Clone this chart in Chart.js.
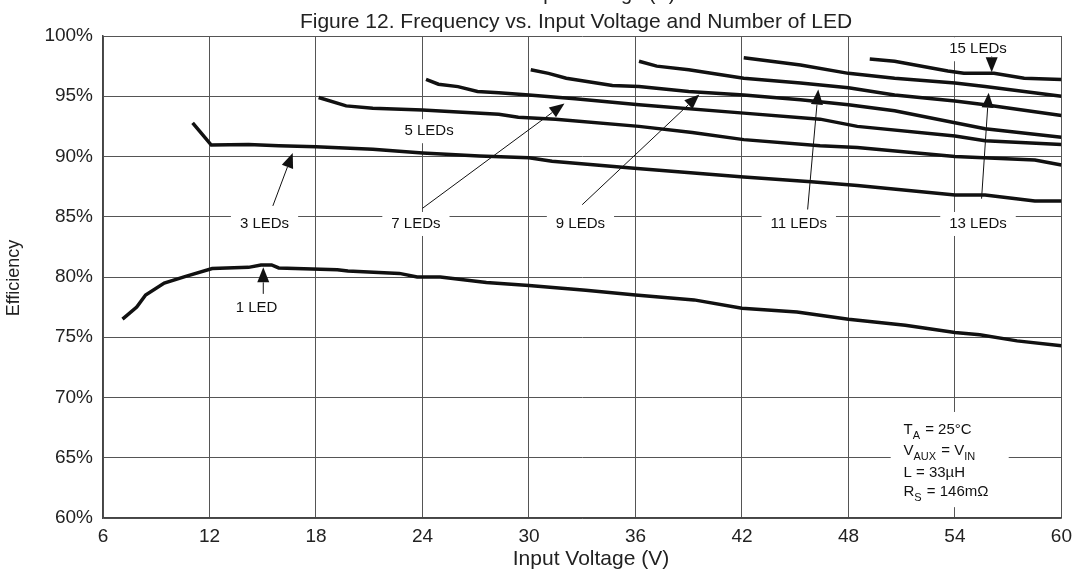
<!DOCTYPE html>
<html>
<head>
<meta charset="utf-8">
<script src="https://cdn.jsdelivr.net/npm/chart.js@4.4.0/dist/chart.umd.min.js"></script>
<style>
  html, body { margin: 0; padding: 0; background: #fff; }
</style>
</head>
<body>
<canvas id="chart1" width="1079" height="572"></canvas>
<script>
// x ticks / y ticks
const xTicks = [6, 12, 18, 24, 30, 36, 42, 48, 54, 60];
const yTicks = [60, 65, 70, 75, 80, 85, 90, 95, 100];

// efficiency curves (input voltage V, efficiency %)
const v1 = [7.1, 7.9, 8.4, 9.45, 10.66, 12.15, 14.2, 14.9, 15.5, 15.9, 19.2, 19.8, 22.7, 23.7, 25.0, 27.6, 30.0, 33.2, 36.0, 39.3, 42.0, 45.1, 48.0, 51.2, 54.0, 55.4, 57.5, 60];
const e1 = [76.5, 77.5, 78.5, 79.5, 80.05, 80.7, 80.8, 81.0, 81.0, 80.75, 80.6, 80.5, 80.3, 80.0, 80.0, 79.55, 79.3, 78.9, 78.5, 78.1, 77.4, 77.1, 76.5, 76.0, 75.4, 75.2, 74.7, 74.3];

const v3 = [11.05, 11.5, 12.1, 14.2, 15.9, 18.0, 21.2, 24.0, 27.2, 30.0, 31.3, 36.1, 42.1, 45.9, 48.5, 54.0, 55.7, 58.5, 60];
const e3 = [92.8, 92.0, 90.95, 91.0, 90.9, 90.8, 90.6, 90.3, 90.05, 89.9, 89.6, 89.0, 88.3, 87.9, 87.6, 86.8, 86.8, 86.3, 86.3];

const v5 = [18.15, 19.7, 21.2, 24.0, 26.0, 28.3, 29.4, 31.5, 36.2, 39.2, 42.1, 46.4, 48.5, 54.0, 58.5, 60];
const e5 = [94.9, 94.2, 94.0, 93.85, 93.7, 93.5, 93.25, 93.1, 92.5, 92.0, 91.4, 90.9, 90.75, 90.0, 89.7, 89.3];

const v7 = [24.2, 24.9, 26.0, 27.1, 28.3, 30.0, 32.6, 36.2, 42.1, 46.4, 48.5, 54.0, 55.7, 60];
const e7 = [96.4, 96.0, 95.8, 95.4, 95.3, 95.1, 94.8, 94.3, 93.6, 93.1, 92.5, 91.7, 91.3, 91.0];

const v9 = [30.1, 31.1, 32.1, 34.7, 36.2, 39.0, 42.1, 45.3, 48.0, 50.6, 54.0, 55.7, 60];
const e9 = [97.2, 96.9, 96.5, 95.9, 95.8, 95.4, 95.1, 94.7, 94.3, 93.8, 92.8, 92.3, 91.6];

const v11 = [36.2, 37.2, 39.0, 42.1, 45.3, 48.0, 50.6, 54.0, 55.7, 60];
const e11 = [97.9, 97.5, 97.2, 96.5, 96.1, 95.7, 95.1, 94.6, 94.3, 93.4];

const v13 = [42.1, 45.3, 48.0, 50.6, 54.0, 55.7, 60];
const e13 = [98.2, 97.6, 96.9, 96.5, 96.1, 95.8, 95.0];

const v15 = [49.2, 50.6, 53.6, 54.5, 56.2, 57.9, 60];
const e15 = [98.1, 97.9, 97.1, 96.9, 96.9, 96.5, 96.4];

const seriesNames = ["1 LED", "3 LEDs", "5 LEDs", "7 LEDs", "9 LEDs", "11 LEDs", "13 LEDs", "15 LEDs"];
const seriesV = [v1, v3, v5, v7, v9, v11, v13, v15];
const seriesE = [e1, e3, e5, e7, e9, e11, e13, e15];

const FONT = "'Liberation Sans', Arial, sans-serif";

// label text, label pos [V, %], arrow tail, arrow tip (null = no arrow)
const notes = [
  { t: "1 LED",   at: [14.65, 77.4], from: [15.03, 78.6], to: [15.03, 80.8] },
  { t: "3 LEDs",  at: [15.1, 84.4],  from: [15.57, 85.9], to: [16.69, 90.3] },
  { t: "5 LEDs",  at: [24.37, 92.1], from: null, to: null },
  { t: "7 LEDs",  at: [23.63, 84.4], from: [24.0, 85.7],  to: [32.0, 94.4] },
  { t: "9 LEDs",  at: [32.9, 84.4],  from: [33.0, 86.0],  to: [39.6, 95.15] },
  { t: "11 LEDs", at: [45.2, 84.4],  from: [45.7, 85.6],  to: [46.3, 95.55] },
  { t: "13 LEDs", at: [55.3, 84.4],  from: [55.5, 86.5],  to: [55.9, 95.3] },
  { t: "15 LEDs", at: [55.3, 98.9],  from: [56.07, 98.3], to: [56.07, 97.0] }
];

function arrow(ctx, x1, y1, x2, y2) {
  const a = Math.atan2(y2 - y1, x2 - x1);
  const hl = 15, hw = 6;
  const bx = x2 - hl * Math.cos(a), by = y2 - hl * Math.sin(a);
  ctx.beginPath();
  ctx.moveTo(x1, y1);
  ctx.lineTo(bx, by);
  ctx.stroke();
  ctx.beginPath();
  ctx.moveTo(x2, y2);
  ctx.lineTo(bx + hw * Math.sin(a), by - hw * Math.cos(a));
  ctx.lineTo(bx - hw * Math.sin(a), by + hw * Math.cos(a));
  ctx.closePath();
  ctx.fill();
}

// text with subscripts: parts = [[text, isSub], ...]
function rich(ctx, parts, x, y) {
  parts.forEach(p => {
    ctx.font = (p[1] ? "11px " : "15px ") + FONT;
    ctx.fillText(p[0], x, p[1] ? y + 5 : y);
    x += ctx.measureText(p[0]).width + (p[1] ? 1 : 0);
  });
}

const decor = {
  id: "decor",
  beforeDatasetsDraw(chart) {
    const ctx = chart.ctx, xs = chart.scales.x, ys = chart.scales.y;
    ctx.save();
    ctx.fillStyle = "#fff";
    ctx.font = "15px " + FONT;
    notes.forEach(n => {
      const w = ctx.measureText(n.t).width + 18;
      const px = xs.getPixelForValue(n.at[0]), py = ys.getPixelForValue(n.at[1]);
      ctx.fillRect(px - w / 2, py - 12, w, 24);
    });
    // conditions box
    const bx1 = xs.getPixelForValue(50.38), bx2 = xs.getPixelForValue(57.03);
    const by1 = ys.getPixelForValue(68.8), by2 = ys.getPixelForValue(60.9);
    ctx.fillRect(bx1, by1, bx2 - bx1, by2 - by1);
    ctx.restore();
  },
  afterDatasetsDraw(chart) {
    const ctx = chart.ctx, xs = chart.scales.x, ys = chart.scales.y;
    ctx.save();
    ctx.fillStyle = "#111";
    ctx.strokeStyle = "#111";
    ctx.lineWidth = 1;
    ctx.font = "15px " + FONT;
    ctx.textAlign = "center";
    ctx.textBaseline = "middle";
    notes.forEach(n => {
      ctx.fillText(n.t, xs.getPixelForValue(n.at[0]), ys.getPixelForValue(n.at[1]));
      if (n.from) {
        arrow(ctx, xs.getPixelForValue(n.from[0]), ys.getPixelForValue(n.from[1]),
                   xs.getPixelForValue(n.to[0]), ys.getPixelForValue(n.to[1]));
      }
    });
    // conditions text
    ctx.textAlign = "left";
    ctx.textBaseline = "alphabetic";
    const tx = xs.getPixelForValue(51.1);
    rich(ctx, [["T", 0], ["A", 1], [" = 25°C", 0]], tx, ys.getPixelForValue(67.0));
    rich(ctx, [["V", 0], ["AUX", 1], [" = V", 0], ["IN", 1]], tx, ys.getPixelForValue(65.23));
    rich(ctx, [["L = 33µH", 0]], tx, ys.getPixelForValue(63.4));
    rich(ctx, [["R", 0], ["S", 1], [" = 146mΩ", 0]], tx, ys.getPixelForValue(61.8));

    // titles (first line is cut off by the top edge)
    ctx.fillStyle = "#222";
    ctx.textAlign = "center";
    ctx.font = "20px " + FONT;
    ctx.fillText("Input Voltage (V)", 601, 0);
    ctx.font = "21px " + FONT;
    ctx.fillText("Figure 12. Frequency vs. Input Voltage and Number of LED", 576, 28);
    ctx.fillText("Input Voltage (V)", 591, 565);
    ctx.save();
    ctx.translate(19, 278);
    ctx.rotate(-Math.PI / 2);
    ctx.font = "18px " + FONT;
    ctx.fillText("Efficiency", 0, 0);
    ctx.restore();
    ctx.restore();
  }
};

const datasets = seriesNames.map((name, i) => ({
  label: name,
  data: seriesV[i].map((v, j) => ({ x: v, y: seriesE[i][j] })),
  borderColor: "#111",
  borderWidth: 3.5,
  pointRadius: 0,
  fill: false,
  tension: 0
}));

new Chart(document.getElementById("chart1").getContext("2d"), {
  type: "line",
  data: { datasets: datasets },
  options: {
    responsive: false,
    animation: false,
    layout: { padding: { top: 36, right: 10, bottom: 0, left: 0 } },
    plugins: { legend: { display: false }, tooltip: { enabled: false } },
    scales: {
      x: {
        type: "linear",
        min: 6, max: 60,
        afterBuildTicks: s => { s.ticks = xTicks.map(v => ({ value: v })); },
        afterFit: s => { s.height = 54; },
        grid: { color: "#555", lineWidth: 1, drawTicks: false },
        border: { color: "#444", width: 1.5 },
        ticks: { color: "#222", padding: 7, font: { family: FONT, size: 19 } }
      },
      y: {
        min: 60, max: 100,
        afterBuildTicks: s => { s.ticks = yTicks.map(v => ({ value: v })); },
        afterFit: s => { s.width = 103; },
        grid: { color: "#555", lineWidth: 1, drawTicks: false },
        border: { color: "#444", width: 1.5 },
        ticks: { color: "#222", padding: 10, font: { family: FONT, size: 19 }, callback: v => v + "%" }
      }
    }
  },
  plugins: [decor]
});
</script>
</body>
</html>
